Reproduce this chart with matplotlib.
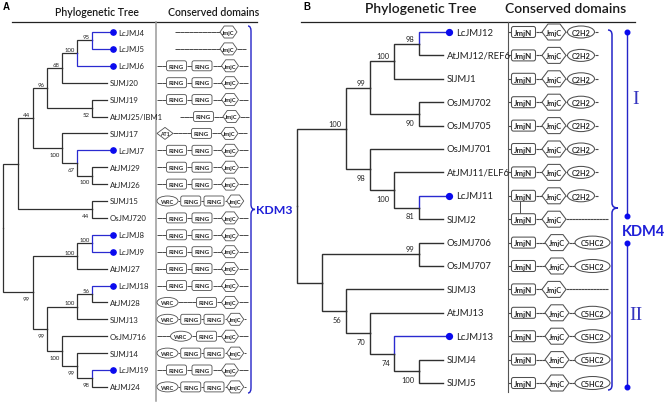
import re
import matplotlib
matplotlib.use("Agg")
import matplotlib.pyplot as plt
from matplotlib.patches import FancyBboxPatch, Polygon, Ellipse, PathPatch
from matplotlib.path import Path

# ---------------- data ----------------
tree_A = ("(((((((LcJMJ4,LcJMJ5)95,LcJMJ6)100,SlJMJ20)68,(SlJMJ19,AtJMJ25/IBM1)52)96,"
          "(SlJMJ17,(LcJMJ7,(AtJMJ29,AtJMJ26)100)67)100)44,(SlJMJ15,OsJMJ720)44),"
          "(((LcJMJ8,LcJMJ9)100,AtJMJ27)100,(((LcJMJ18,AtJMJ28)56,SlJMJ13)100,"
          "(OsJMJ716,(SlJMJ14,(LcJMJ19,AtJMJ24)98)99)100)99)99)")
tree_B = ("(((((LcJMJ12,AtJMJ12/REF6)98,SlJMJ1)100,(OsJMJ702,OsJMJ705)90)99,"
          "(OsJMJ701,(AtJMJ11/ELF6,(LcJMJ11,SlJMJ2)81)100)98)100,"
          "((OsJMJ706,OsJMJ707)99,(SlJMJ3,(AtJMJ13,(LcJMJ13,(SlJMJ4,SlJMJ5)100)74)70)56))")

STD_A = "--RING-RING--JmjC--"
PACK_A = "WRC.RING.RING.JmjC."
domains_A = [
    "    ----------JmjC", "    ----------JmjC--", STD_A, STD_A, STD_A,
    "     ---RING--JmjC--", "AT1----RING--JmjC--", STD_A, STD_A, STD_A,
    "WRC.RING.RING.JmjC", STD_A, STD_A, STD_A, STD_A, STD_A,
    "WRC----RING-JmjC--", PACK_A, "---WRC-RING-JmjC--", PACK_A, STD_A, PACK_A,
]
C2H2_B = "-JmjN--JmjC.C2H2-"
C5_B = "-JmjN---JmjC--C5HC2"
NONE_B = "-JmjN--JmjC" + "-" * 14
domains_B = [C2H2_B] * 8 + [NONE_B, C5_B, C5_B, NONE_B, C5_B, C5_B, C5_B, C5_B]

family_A = "KDM3"
family_B = "KDM4"
groups_B = [("I", 0, 8), ("II", 9, 15)]

# ---------------- styles ----------------
TREE_COL = "#303030"
BLUE_BR = "#2a2ad0"
DOT = "#0a0aee"
KBLUE = "#1f1fd8"
LINE = "#4a4a4a"
EDGE = "#505050"
FONT = "Lato"

fig = plt.figure(figsize=(6.69, 4.06), dpi=100)
ax = fig.add_axes([0, 0, 1, 1])
ax.set_xlim(0, 669)
ax.set_ylim(406, 0)
ax.axis("off")


def parse(s):
    pos = 0

    def node():
        nonlocal pos
        if s[pos] == "(":
            pos += 1
            kids = [node()]
            while s[pos] == ",":
                pos += 1
                kids.append(node())
            assert s[pos] == ")"
            pos += 1
            lab = ""
            while pos < len(s) and s[pos] not in ",();":
                lab += s[pos]
                pos += 1
            return {"kids": kids, "boot": lab}
        name = ""
        while pos < len(s) and s[pos] not in ",();":
            name += s[pos]
            pos += 1
        return {"name": name}

    return node()


def layout(root, leaf_x, step, y0, dy):
    leaves = []

    def rec(n):
        if "name" in n:
            n["y"] = y0 + len(leaves) * dy
            n["h"] = 0
            leaves.append(n)
        else:
            for k in n["kids"]:
                rec(k)
            n["y"] = (n["kids"][0]["y"] + n["kids"][-1]["y"]) / 2
            n["h"] = 1 + max(k["h"] for k in n["kids"])
        n["x"] = leaf_x - n["h"] * step

    rec(root)
    return leaves


def draw_tree(root, leaves, P):
    def rec(n):
        if "kids" not in n:
            return
        for i, k in enumerate(n["kids"]):
            is_lc = "name" in k and k["name"].startswith("Lc")
            col = BLUE_BR if is_lc else TREE_COL
            xe = k["x"] + (P["dot_dx"] if is_lc else 0)
            ax.plot([n["x"], n["x"], xe], [n["y"], k["y"], k["y"]], color=col,
                    lw=P["lw"], solid_joinstyle="miter", solid_capstyle="projecting")
            if "kids" in k and k["boot"]:
                if i == 0:
                    ax.text(k["x"] - P["bdx"], k["y"] - P["bup"], k["boot"], ha="right",
                            va="bottom", fontsize=P["bfs"], family=FONT, color="#222")
                else:
                    ax.text(k["x"] - P["bdx"], k["y"] + P["bdn"], k["boot"], ha="right",
                            va="top", fontsize=P["bfs"], family=FONT, color="#222")
            rec(k)

    rec(root)
    for lf in leaves:
        if lf["name"].startswith("Lc"):
            ax.plot(lf["x"] + P["dot_dx"], lf["y"], "o", ms=P["ms"], color=DOT, mec=DOT)
            tx = lf["x"] + P["lc_tx"]
        else:
            tx = lf["x"] + P["tx"]
        ax.text(tx, lf["y"], lf["name"], ha="left", va="center", fontsize=P["lfs"],
                family=FONT, color="#222")


SHAPE = {"RING": "box", "JmjN": "box", "JmjC": "hex", "WRC": "ell", "C2H2": "ell",
         "C5HC2": "ell", "AT1": "dia"}
TXT_SCALE = {"box": 1.0, "hex": 0.92, "ell": 0.9, "dia": 0.82}


def draw_row(spec, x, y, P):
    pos = {}
    for tok in re.findall(r"[A-Za-z0-9]+|[-. ]", spec):
        u = P["unit"]
        if tok == " ":
            x += u
        elif tok in "-.":
            seg = u if tok == "-" else u * 0.5
            ax.plot([x, x + seg], [y, y], color=LINE, lw=P["clw"], solid_capstyle="butt")
            x += seg
        else:
            w, h = P["sizes"][tok]
            kind = SHAPE[tok]
            if kind == "box":
                p = FancyBboxPatch((x + 0.5, y - h / 2), w - 1, h,
                                   boxstyle="round,pad=0,rounding_size=2",
                                   fc="white", ec=EDGE, lw=P["elw"], zorder=3)
            elif kind == "hex":
                a = w * 0.25
                p = Polygon([(x, y), (x + a, y - h / 2), (x + w - a, y - h / 2), (x + w, y),
                             (x + w - a, y + h / 2), (x + a, y + h / 2)], closed=True,
                            fc="white", ec=EDGE, lw=P["elw"], zorder=3)
            elif kind == "ell":
                p = Ellipse((x + w / 2, y), w, h, fc="white", ec=EDGE, lw=P["elw"], zorder=3)
            else:
                p = Polygon([(x, y), (x + w / 2, y - h / 2), (x + w, y), (x + w / 2, y + h / 2)],
                            closed=True, fc="white", ec=EDGE, lw=P["elw"], zorder=3)
            ax.add_patch(p)
            ax.text(x + w / 2, y + 0.3, tok, ha="center", va="center",
                    fontsize=P["dfs"] * TXT_SCALE[kind],
                    family=FONT, weight="bold", color="#262626", zorder=4)
            pos[tok] = (x, w)
            x += w
    return pos


def brace(x, y0, y1, ym, d, hook, color, lw):
    r = 5
    verts = [(x - hook, y0), (x, y0), (x, y0 + r), (x, ym - r), (x, ym), (x + d, ym),
             (x, ym), (x, ym + r), (x, y1 - r), (x, y1), (x - hook, y1)]
    codes = [Path.MOVETO, Path.CURVE3, Path.CURVE3, Path.LINETO, Path.CURVE3, Path.CURVE3,
             Path.CURVE3, Path.CURVE3, Path.LINETO, Path.CURVE3, Path.CURVE3]
    ax.add_patch(PathPatch(Path(verts, codes), fc="none", ec=color, lw=lw))


# ---------------- panel A ----------------
PA = dict(lw=0.9, dot_dx=6, bdx=2.5, bup=1.2, bdn=3.8, bfs=4.3, ms=3.8, lc_tx=11, tx=3,
          lfs=5.6, unit=4.5, clw=0.7, elw=0.6, dfs=4.5,
          sizes={"RING": (21, 10), "JmjC": (17, 12), "WRC": (21, 10), "AT1": (16, 12)})
rootA = parse(tree_A)
leavesA = layout(rootA, 107, 14.9, 33, 16.9)
draw_tree(rootA, leavesA, PA)
for lf, spec in zip(leavesA, domains_A):
    draw_row(spec, 157, lf["y"], PA)

ax.text(3, 7, "A", fontsize=7, weight="bold", family="Liberation Sans", va="center")
ax.text(97, 12.5, "Phylogenetic Tree", fontsize=7.6, family=FONT, weight="semibold",
        ha="center", va="center", color="#1a1a1a")
ax.text(214, 12.5, "Conserved domains", fontsize=7.6, family=FONT, weight="semibold",
        ha="center", va="center", color="#1a1a1a")
ax.plot([12, 257], [23, 23], color="#222", lw=0.9)
ax.plot([156, 156], [23, 402], color="#9a9a9a", lw=1.1)
brace(251, 27, 394, leavesA[0]["y"] + (leavesA[-1]["y"] - leavesA[0]["y"]) / 2, 4, 3,
      "#2424c8", 1.0)
ax.text(256, 211, family_A, fontsize=8.8, weight="bold", family=FONT, color=KBLUE,
        ha="left", va="center")

# ---------------- panel B ----------------
PB = dict(lw=1.0, dot_dx=6, bdx=4.5, bup=2.0, bdn=5.0, bfs=5.4, ms=4.2, lc_tx=13, tx=3.5,
          lfs=6.8, unit=3.0, clw=0.8, elw=0.75, dfs=5.8,
          sizes={"JmjN": (25, 11), "JmjC": (24, 16), "C2H2": (27, 12), "C5HC2": (35, 13)})
rootB = parse(tree_B)
leavesB = layout(rootB, 443, 24.3, 33, 23.4)
draw_tree(rootB, leavesB, PB)
rowpos = []
for lf, spec in zip(leavesB, domains_B):
    rowpos.append(draw_row(spec, 508, lf["y"], PB))
# small connector under LcJMJ11 JmjN box
xj, wj = rowpos[7]["JmjN"]
ax.plot([xj + 9, xj + 9], [leavesB[7]["y"] + 5.5, leavesB[8]["y"] - 5.5], color=LINE, lw=0.7)

ax.text(303, 7, "B", fontsize=7, weight="bold", family="Liberation Sans", va="center")
ax.text(421, 9, "Phylogenetic Tree", fontsize=10, family=FONT, weight="semibold",
        ha="center", va="center", color="#1a1a1a")
ax.text(566, 9, "Conserved domains", fontsize=10, family=FONT, weight="semibold",
        ha="center", va="center", color="#1a1a1a")
ax.plot([301, 635], [23, 23], color="#222", lw=0.9)
ax.plot([508, 508], [23, 393], color="#555", lw=0.8)
brace(612, 31, 391, 209, 6, 4, "#2424c8", 1.1)
ax.text(622, 232, family_B, fontsize=10.5, weight="bold", family=FONT, color=KBLUE,
        ha="left", va="center")

for (lab, i0, i1), frac in zip(groups_B, [0.36, 0.5]):
    ya, yb = leavesB[i0]["y"], leavesB[i1]["y"] - (3 if i0 == 0 else -4)
    ax.plot([627, 627], [ya, yb], color="#2424c8", lw=1.0)
    ax.plot([627, 627], [ya, yb], "o", ms=3.3, color=DOT)
    ax.text(636, ya + (yb - ya) * frac, lab, fontsize=14, family="Liberation Serif",
            color="#3535c0", ha="center", va="center")

fig.savefig("out.png", dpi=100)
